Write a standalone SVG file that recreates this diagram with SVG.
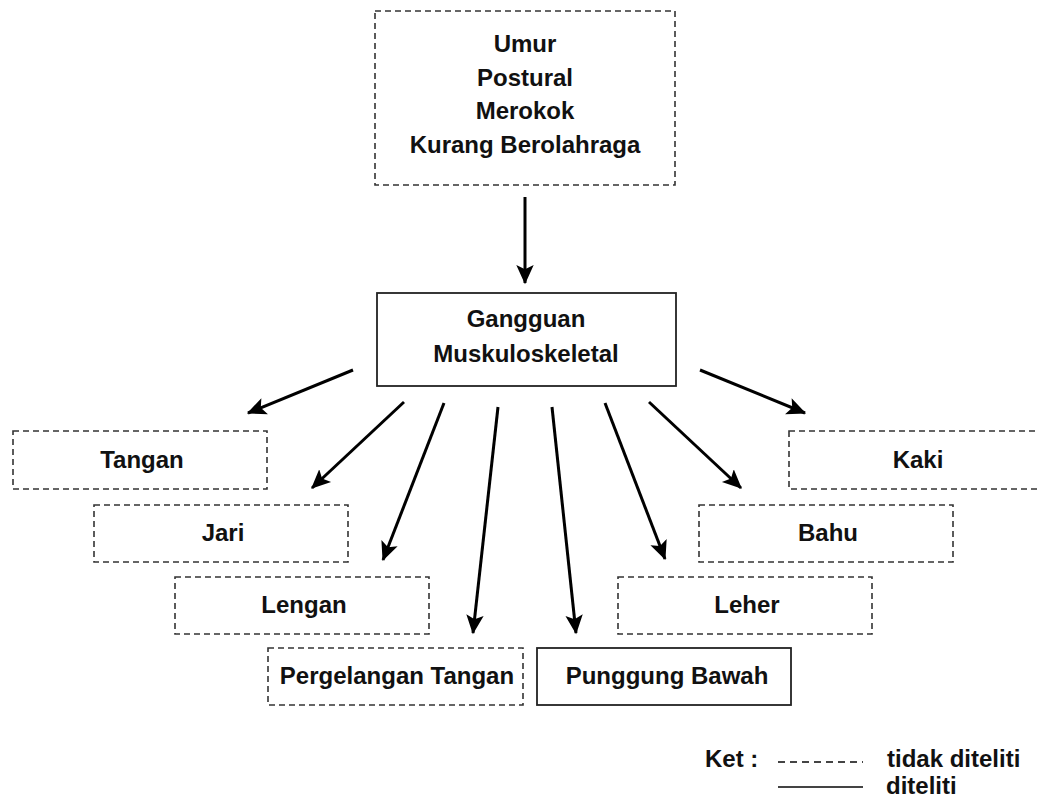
<svg xmlns="http://www.w3.org/2000/svg" width="1038" height="807" viewBox="0 0 1038 807">
<style>
.bg{fill:#fff}
.dash{fill:#fff;stroke:#333;stroke-width:1.6;stroke-dasharray:6 4}
.solid{fill:#fff;stroke:#222;stroke-width:1.8}
.t{font-family:"Liberation Sans",Arial,sans-serif;font-weight:bold;font-size:24px;fill:#111;text-anchor:middle}
.l{font-family:"Liberation Sans",Arial,sans-serif;font-weight:bold;font-size:24px;fill:#111}
.c{stroke:#000;stroke-width:3;fill:none;marker-end:url(#ah)}
</style>
<defs>
<marker id="ah" markerWidth="7" markerHeight="7" refX="6" refY="3.5" orient="auto" markerUnits="strokeWidth">
<path d="M0,0.6 L6.4,3.5 L0,6.4 L1.4,3.5 z" fill="#000"/>
</marker>
</defs>
<rect class="bg" width="1038" height="807"/>
<g id="top">
<rect class="dash" x="375" y="11" width="300" height="174"/>
<text class="t" x="525" y="52">Umur</text>
<text class="t" x="525" y="86">Postural</text>
<text class="t" x="525" y="119">Merokok</text>
<text class="t" x="525" y="153">Kurang Berolahraga</text>
</g>
<g id="gangguan">
<rect class="solid" x="377" y="293" width="299" height="93"/>
<text class="t" x="526" y="327">Gangguan</text>
<text class="t" x="526" y="362">Muskuloskeletal</text>
</g>
<g id="tangan"><rect class="dash" x="13" y="431" width="254" height="58"/><text class="t" x="142" y="468">Tangan</text></g>
<g id="jari"><rect class="dash" x="94" y="505" width="254" height="57"/><text class="t" x="223" y="541">Jari</text></g>
<g id="lengan"><rect class="dash" x="175" y="577" width="254" height="57"/><text class="t" x="304" y="613">Lengan</text></g>
<g id="pergelangan"><rect class="dash" x="268" y="648" width="255" height="57"/><text class="t" x="397" y="684">Pergelangan Tangan</text></g>
<g id="punggung"><rect class="solid" x="537" y="648" width="254" height="57"/><text class="t" x="667" y="684">Punggung Bawah</text></g>
<g id="leher"><rect class="dash" x="618" y="577" width="254" height="57"/><text class="t" x="747" y="613">Leher</text></g>
<g id="bahu"><rect class="dash" x="699" y="505" width="254" height="57"/><text class="t" x="828" y="541">Bahu</text></g>
<g id="kaki"><rect class="dash" x="789" y="431" width="270" height="58"/><text class="t" x="918" y="468">Kaki</text></g>
<g id="connectors">
<line class="c" x1="525" y1="197" x2="525" y2="283"/>
<line class="c" x1="353" y1="370" x2="248" y2="413"/>
<line class="c" x1="404" y1="402" x2="312" y2="488"/>
<line class="c" x1="444" y1="403" x2="383" y2="560"/>
<line class="c" x1="498" y1="407" x2="473" y2="633"/>
<line class="c" x1="552" y1="407" x2="576" y2="633"/>
<line class="c" x1="605" y1="403" x2="665" y2="559"/>
<line class="c" x1="649" y1="402" x2="741" y2="488"/>
<line class="c" x1="700" y1="370" x2="805" y2="413"/>
</g>
<g id="legend">
<text class="l" x="705" y="767">Ket :</text>
<line x1="778" y1="762" x2="863" y2="762" stroke="#444" stroke-width="2" stroke-dasharray="7 5"/>
<text class="l" x="887" y="767">tidak diteliti</text>
<line x1="778" y1="787" x2="863" y2="787" stroke="#444" stroke-width="2.2"/>
<text class="l" x="886" y="794">diteliti</text>
</g>
</svg>
